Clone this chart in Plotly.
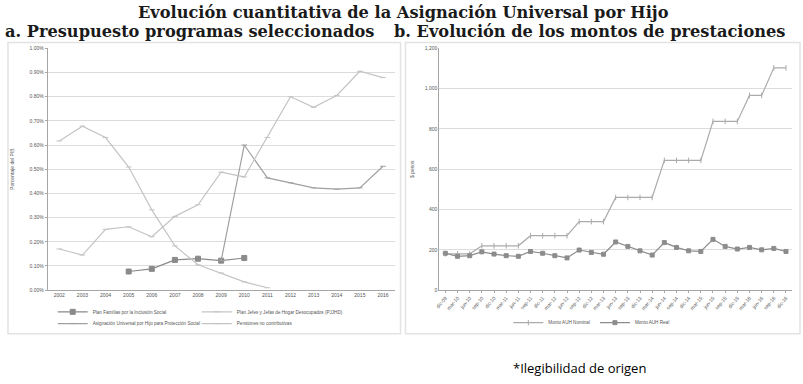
import plotly.graph_objects as go

# ---------------- data: panel a ----------------
years = [str(y) for y in range(2002, 2017)]
plan_familias = [None, None, None, 0.077, 0.088, 0.125, 0.130, 0.122, 0.133,
                 None, None, None, None, None, None]
pjjhd = [0.617, 0.678, 0.631, 0.509, 0.332, 0.183, 0.105, 0.071, 0.034, 0.010,
         None, None, None, None, None]
auh_presupuesto = [None, None, None, None, None, None, None, 0.122, 0.600, 0.464,
                   0.444, 0.423, 0.418, 0.423, 0.512]
pensiones_nc = [0.170, 0.145, 0.251, 0.262, 0.221, 0.305, 0.353, 0.488, 0.468, 0.631,
                0.800, 0.756, 0.805, 0.905, 0.879]
names_a = ["Plan Familias por la Inclusión Social",
           "Plan Jefes y Jefas de Hogar Desocupados (PJJHD)",
           "Asignación Universal por Hijo para Protección Social",
           "Pensiones no contributivas"]
yticks_a = [0.0, 0.1, 0.2, 0.3, 0.4, 0.5, 0.6, 0.7, 0.8, 0.9, 1.0]
yticklabels_a = ["0.00%", "0.10%", "0.20%", "0.30%", "0.40%", "0.50%",
                 "0.60%", "0.70%", "0.80%", "0.90%", "1.00%"]

# ---------------- data: panel b ----------------
periods = ["dic-09", "mar-10", "jun-10", "sep-10", "dic-10", "mar-11", "jun-11", "sep-11",
           "dic-11", "mar-12", "jun-12", "sep-12", "dic-12", "mar-13", "jun-13", "sep-13",
           "dic-13", "mar-14", "jun-14", "sep-14", "dic-14", "mar-15", "jun-15", "sep-15",
           "dic-15", "mar-16", "jun-16", "sep-16", "dic-16"]
monto_nominal = [180, 180, 180, 220, 220, 220, 220, 270, 270, 270, 270, 340, 340, 340,
                 460, 460, 460, 460, 644, 644, 644, 644, 837, 837, 837, 966, 966, 1103, 1103]
monto_real = [183, 168, 171, 190, 179, 171, 168, 192, 183, 171, 160, 199, 187, 178,
              239, 217, 195, 174, 236, 212, 195, 192, 252, 217, 204, 212, 200, 207, 192]
names_b = ["Monto AUH Nominal", "Monto AUH Real"]
yticks_b = [0, 200, 400, 600, 800, 1000, 1200]

W, H = 803, 384
def px(x): return x / W
def py(y): return 1 - y / H

fig = go.Figure()

tick_font = dict(family="Liberation Sans", size=5, color="#555555")
leg_font = dict(family="Liberation Sans", size=4.6, color="#555555")

# panel a traces, each in its own small legend box (2 x 2 grid)
styles_a = [
    dict(color="#8a8a8a", symbol="square", msize=5, leg="legend"),
    dict(color="#c4c4c4", symbol="line-ew-open", msize=4, leg="legend3"),
    dict(color="#a0a0a0", symbol="line-ew-open", msize=4, leg="legend4"),
    dict(color="#c4c4c4", symbol="line-ew-open", msize=4, leg="legend5"),
]
for name, vals, st in zip(names_a, [plan_familias, pjjhd, auh_presupuesto, pensiones_nc], styles_a):
    fig.add_trace(go.Scatter(
        x=years, y=vals, name=name, mode="lines+markers",
        line=dict(color=st["color"], width=1.2),
        marker=dict(symbol=st["symbol"], size=st["msize"], color=st["color"],
                    line=dict(color=st["color"], width=1)),
        xaxis="x", yaxis="y", legend=st["leg"], connectgaps=False))

# panel b traces
styles_b = [
    dict(color="#ababab", symbol="line-ns-open", msize=4),
    dict(color="#8c8c8c", symbol="square", msize=4),
]
for name, vals, st in zip(names_b, [monto_nominal, monto_real], styles_b):
    fig.add_trace(go.Scatter(
        x=periods, y=vals, name=name, mode="lines+markers",
        line=dict(color=st["color"], width=1.2),
        marker=dict(symbol=st["symbol"], size=st["msize"], color=st["color"],
                    line=dict(color=st["color"], width=1)),
        xaxis="x2", yaxis="y2", legend="legend2"))

grid = "#dcdcdc"
axis_line = "#a6a6a6"

def small_legend(x, y):
    return dict(orientation="v", x=px(x), y=py(y), xanchor="left", yanchor="top",
                font=leg_font, bgcolor="rgba(0,0,0,0)", tracegroupgap=0, itemwidth=30)

fig.update_layout(
    width=W, height=H,
    margin=dict(l=0, r=0, t=0, b=0),
    paper_bgcolor="white", plot_bgcolor="white",
    showlegend=True,
    xaxis=dict(domain=[px(43), px(392)], anchor="y", type="category",
               range=[-0.5, 14.5], showgrid=False, showline=True, linecolor=axis_line,
               ticks="", tickfont=tick_font, tickangle=0),
    yaxis=dict(domain=[py(291.7), py(46)], anchor="x", range=[0, 1.0],
               tickvals=yticks_a, ticktext=yticklabels_a,
               showgrid=True, gridcolor=grid, showline=True, linecolor=axis_line,
               zeroline=False, ticks="outside", ticklen=2, tickcolor=axis_line,
               tickfont=tick_font,
               title=dict(text="Porcentaje del PIB", font=dict(family="Liberation Sans", size=5, color="#555"),
                          standoff=14)),
    xaxis2=dict(domain=[px(437), px(792)], anchor="y2", type="category",
                range=[-0.5, 28.5], showgrid=False, showline=True, linecolor=axis_line,
                ticks="outside", ticklen=2, tickcolor=axis_line,
                tickfont=tick_font, tickangle=-50),
    yaxis2=dict(domain=[py(291.7), py(46)], anchor="x2", range=[0, 1200],
                tickvals=yticks_b, tickformat=",",
                showgrid=True, gridcolor=grid, showline=True, linecolor=axis_line,
                zeroline=False, ticks="", tickfont=tick_font,
                title=dict(text="$ pesos", font=dict(family="Liberation Sans", size=5, color="#555"),
                           standoff=10)),
    legend=small_legend(48, 299),
    legend3=small_legend(193, 299),
    legend4=small_legend(48, 311),
    legend5=small_legend(193, 311),
    legend2=dict(orientation="h", x=px(590), y=py(310), xanchor="center", yanchor="top",
                 font=leg_font, bgcolor="rgba(0,0,0,0)", itemwidth=30),
)

# panel boxes
fig.add_shape(type="rect", xref="paper", yref="paper",
              x0=px(3), x1=px(398), y0=py(336), y1=py(40),
              line=dict(color="#e3e3e3", width=1.5), layer="below")
fig.add_shape(type="rect", xref="paper", yref="paper",
              x0=px(403), x1=px(800), y0=py(336), y1=py(40),
              line=dict(color="#e3e3e3", width=1.5), layer="below")

title_font = dict(family="DejaVu Serif", size=16.2, color="#1a1a1a")
fig.add_annotation(text="<b>Evolución cuantitativa de la Asignación Universal por Hijo</b>",
                   xref="paper", yref="paper", x=px(401), y=py(10),
                   xanchor="center", yanchor="middle", showarrow=False, font=title_font)
fig.add_annotation(text="<b>a. Presupuesto programas seleccionados</b>",
                   xref="paper", yref="paper", x=px(-2), y=py(29),
                   xanchor="left", yanchor="middle", showarrow=False, font=title_font)
fig.add_annotation(text="<b>b. Evolución de los montos de prestaciones</b>",
                   xref="paper", yref="paper", x=px(389), y=py(29),
                   xanchor="left", yanchor="middle", showarrow=False, font=title_font)
fig.add_annotation(text="*Ilegibilidad de origen",
                   xref="paper", yref="paper", x=px(509), y=py(371),
                   xanchor="left", yanchor="middle", showarrow=False,
                   font=dict(family="Open Sans", size=13, color="#000000"))

fig.write_html("out.html", config={"displayModeBar": False},
               post_script="document.body.style.margin='0';document.body.style.padding='0';")
